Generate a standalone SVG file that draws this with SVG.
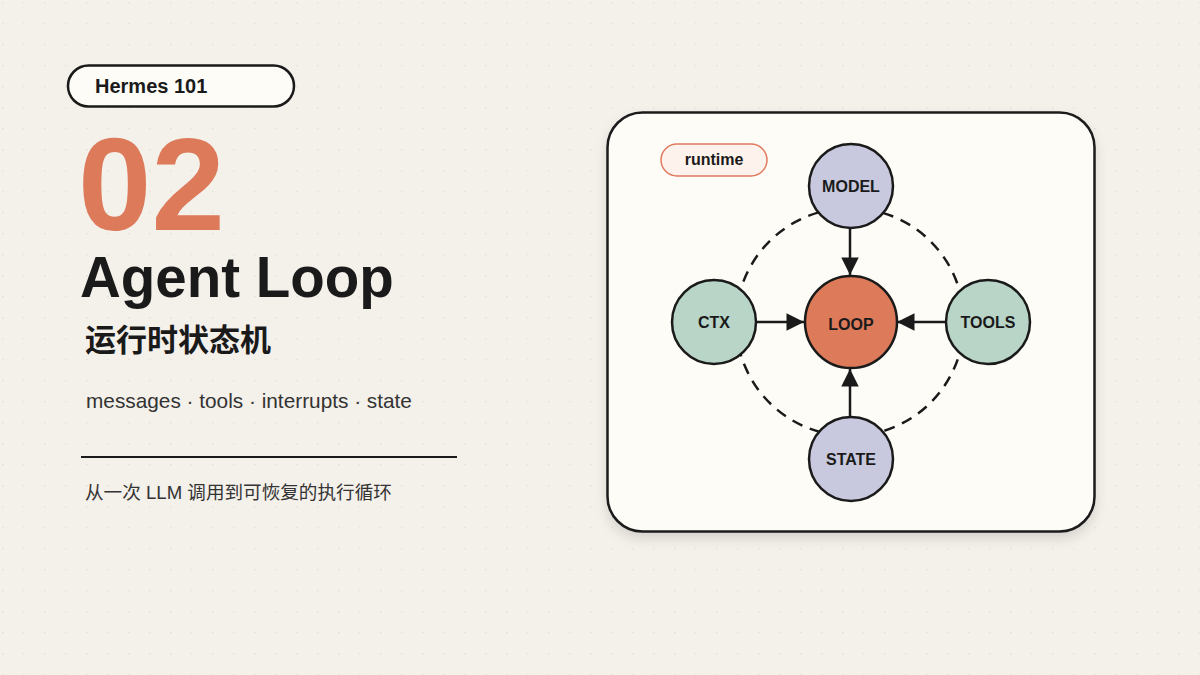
<svg xmlns="http://www.w3.org/2000/svg" width="1200" height="675" viewBox="0 0 1200 675">
<defs>
<pattern id="dots" x="2" y="2" width="21" height="21" patternUnits="userSpaceOnUse"><circle cx="0.8" cy="0.8" r="0.8" fill="#e2ddd4"/></pattern>
<marker id="ah" viewBox="0 0 10 10" refX="10" refY="5" markerWidth="7.5" markerHeight="7" orient="auto" markerUnits="strokeWidth"><path d="M0,0 L10,5 L0,10 z" fill="#1a1a1a"/></marker>
<filter id="sh" x="-10%" y="-10%" width="120%" height="130%"><feDropShadow dx="0" dy="6" stdDeviation="6" flood-color="#000" flood-opacity="0.12"/></filter>
</defs>
<style>
.f{font-family:"Liberation Sans",Arial,"Noto Sans CJK SC",sans-serif}
.n{stroke:#1a1a1a;stroke-width:2.5}
.lb{font-family:"Liberation Sans",Arial,sans-serif;font-weight:bold;font-size:16px;fill:#1a1a1a;text-anchor:middle}
</style>
<rect width="1200" height="675" fill="#f4f0ea"/>
<rect width="1200" height="675" fill="url(#dots)"/>
<g id="badge"><rect x="68" y="65.500" width="226" height="41" rx="20.500" fill="#fdfcf7" stroke="#1a1a1a" stroke-width="2.500"/><text x="95" y="93" class="f" font-size="20" font-weight="bold" fill="#1a1a1a">Hermes 101</text></g>
<text x="78" y="230" class="f" font-size="132" font-weight="bold" fill="#dc7a5a">02</text>
<text x="80" y="297" class="f" font-size="56.500" font-weight="bold" fill="#1a1a1a">Agent Loop</text>
<text x="85" y="351" class="f" font-size="31" font-weight="bold" fill="#1a1a1a">运行时状态机</text>
<text x="86" y="408" class="f" font-size="20.800" fill="#333">messages · tools · interrupts · state</text>
<line x1="81" y1="457" x2="457" y2="457" stroke="#1a1a1a" stroke-width="2"/>
<text x="85" y="499" class="f" font-size="18.600" fill="#333">从一次 LLM 调用到可恢复的执行循环</text>
<g id="card"><rect x="607.500" y="112.500" width="487" height="419" rx="35" fill="#fdfcf7" stroke="#1a1a1a" stroke-width="2.500" filter="url(#sh)"/></g>
<g id="runtime"><rect x="661" y="144" width="106" height="32" rx="16" fill="#fdf3ec" stroke="#e07a5f" stroke-width="1.500"/><text x="714" y="165" class="lb" font-size="13">runtime</text></g>
<g id="connectors">
<circle cx="850" cy="322" r="114" fill="none" stroke="#1a1a1a" stroke-width="2.500" stroke-dasharray="11 8"/>
<line x1="850" y1="228" x2="850" y2="275" stroke="#1a1a1a" stroke-width="2.500" marker-end="url(#ah)"/>
<line x1="850" y1="417" x2="850" y2="369" stroke="#1a1a1a" stroke-width="2.500" marker-end="url(#ah)"/>
<line x1="756" y1="322" x2="804" y2="322" stroke="#1a1a1a" stroke-width="2.500" marker-end="url(#ah)"/>
<line x1="946" y1="322" x2="897" y2="322" stroke="#1a1a1a" stroke-width="2.500" marker-end="url(#ah)"/>
</g>
<g id="model"><circle cx="851" cy="186" r="42" fill="#c8c9de" class="n"/><text x="851" y="192" class="lb">MODEL</text></g>
<g id="ctx"><circle cx="714" cy="322" r="42" fill="#b8d5c8" class="n"/><text x="714" y="328" class="lb">CTX</text></g>
<g id="tools"><circle cx="988" cy="322" r="42" fill="#b8d5c8" class="n"/><text x="988" y="328" class="lb">TOOLS</text></g>
<g id="state"><circle cx="851" cy="459" r="42" fill="#c8c9de" class="n"/><text x="851" y="465" class="lb">STATE</text></g>
<g id="loop"><circle cx="851" cy="322" r="46" fill="#dc7a5a" class="n"/><text x="851" y="330" class="lb" font-size="22">LOOP</text></g>
</svg>
